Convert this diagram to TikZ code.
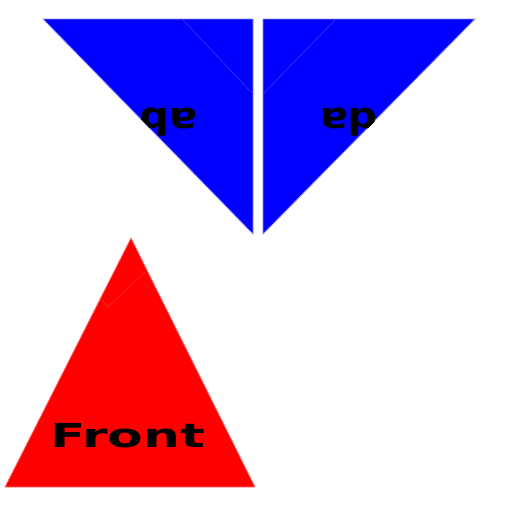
\documentclass[tikz,border=0pt]{standalone}
\usepackage{fontspec}
\setmainfont{DejaVu Sans}
\begin{document}
\begin{tikzpicture}[x=1pt,y=-1pt,
  bluetri/.style={fill=blue, draw=blue!45!white, line width=0.8pt, line join=miter},
  redtri/.style={fill=red, draw=red!55!white, line width=0.8pt},
  faintblue/.style={draw=blue!70!white, line width=0.4pt},
  faintred/.style={draw=red!80!white, line width=0.4pt},
  lbl/.style={inner sep=0pt, text=black, font=\bfseries}]
\useasboundingbox (0,0) rectangle (512,512);
\fill[white] (0,0) rectangle (512,512);
\coordinate (L1) at (43,19); \coordinate (L2) at (253,19); \coordinate (L3) at (253,234);
\coordinate (R1) at (263,19); \coordinate (R2) at (475,19); \coordinate (R3) at (263,234);
\coordinate (F1) at (131,238); \coordinate (F2) at (5,487); \coordinate (F3) at (255,487);
\draw[bluetri] (L1) -- (L2) -- (L3) -- cycle;
\draw[bluetri] (R1) -- (R2) -- (R3) -- cycle;
\draw[redtri] (F1) -- (F2) -- (F3) -- cycle;
\draw[faintblue] (183,20) -- (252,93);
\draw[faintblue] (335,20) -- (264,93);
\draw[faintred] (100,298) -- (108,307) -- (145,272);
\begin{scope}
  \clip (L1) -- (L2) -- (L3) -- cycle;
  \node[lbl, anchor=base] (tl) at (169,108) {\fontsize{36.5}{40}\selectfont\scalebox{-1.14}[-1]{ab}};
\end{scope}
\begin{scope}
  \clip (R1) -- (R2) -- (R3) -- cycle;
  \node[lbl, anchor=base] (tr) at (349,108) {\fontsize{36.5}{40}\selectfont\scalebox{-1.14}[-1]{da}};
\end{scope}
\node[lbl, anchor=base west] (front) at (50,447) {\fontsize{33}{36}\selectfont\scalebox{1.57}[1]{Front}};
\end{tikzpicture}
\end{document}
